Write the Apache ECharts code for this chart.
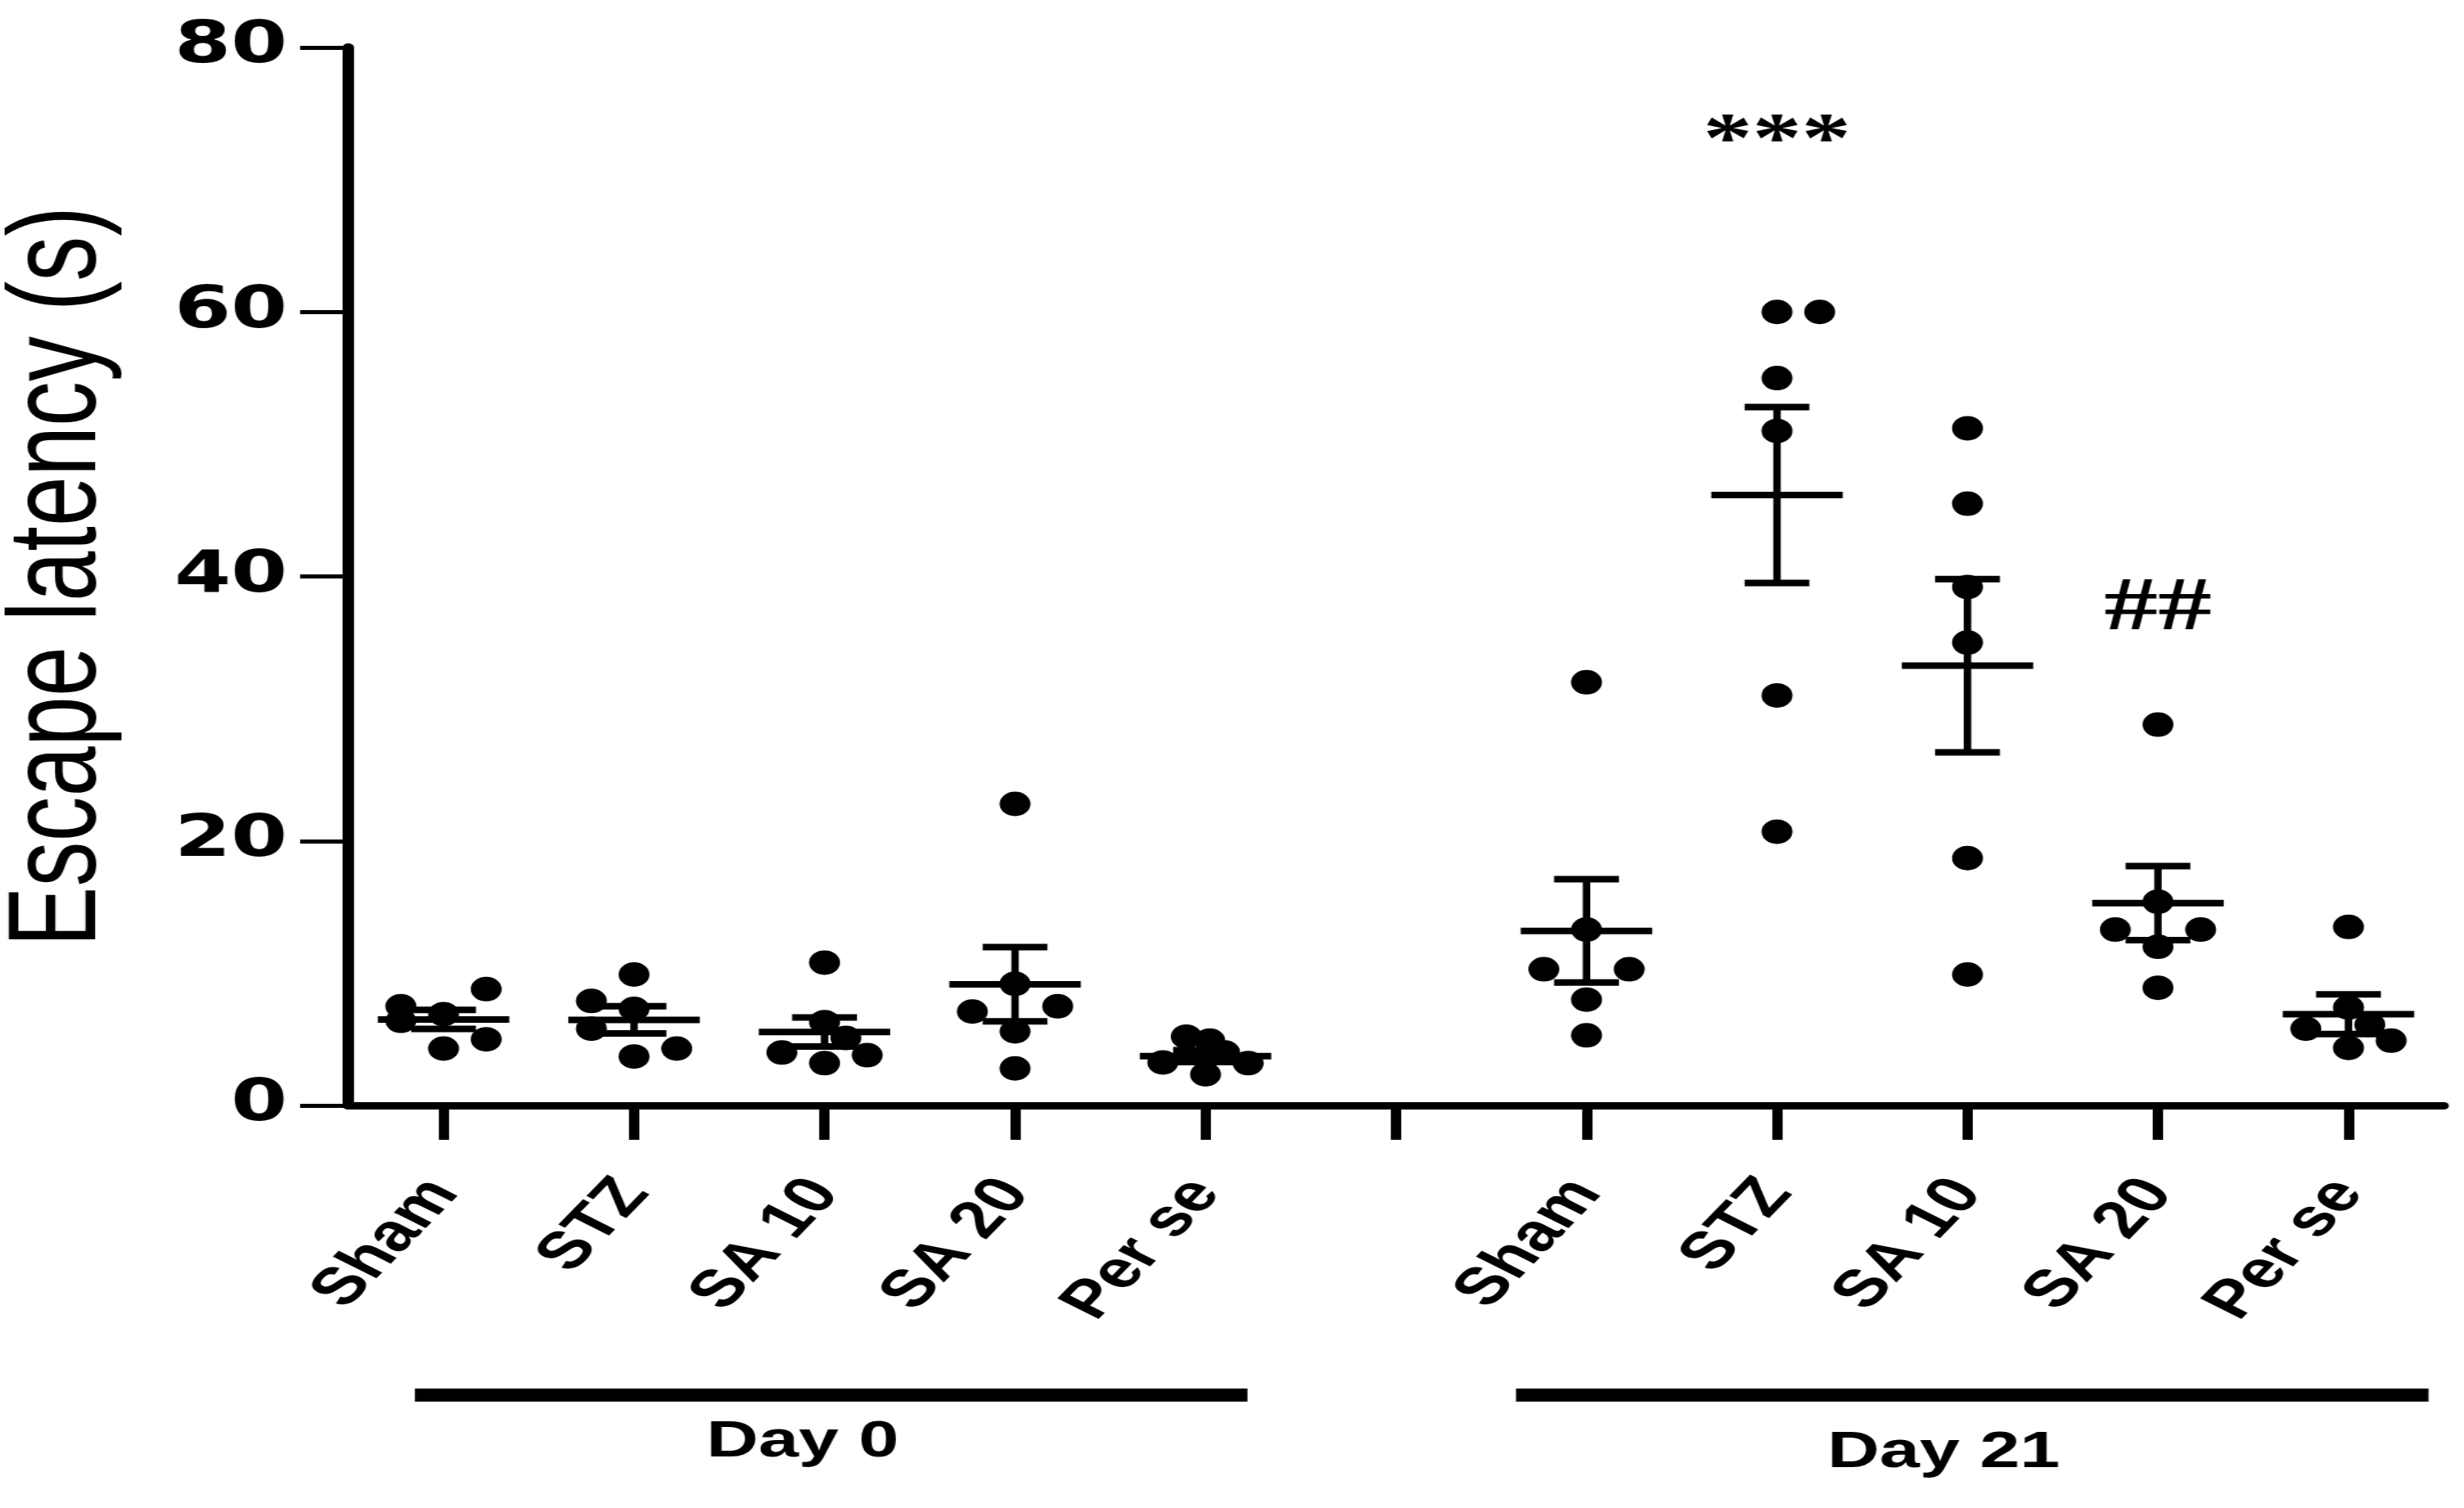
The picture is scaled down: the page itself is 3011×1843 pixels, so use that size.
<!DOCTYPE html>
<html>
<head>
<meta charset="utf-8">
<script src="https://cdn.jsdelivr.net/npm/echarts@6/dist/echarts.min.js"></script>
<style>
html, body { margin: 0; padding: 0; background: #fff; overflow: hidden; width: 3011px; height: 1843px; }
/* the reference figure is horizontally stretched; draw at 1/1.4 width and stretch */
#chart { width: 2151px; height: 1843px; transform: scaleX(1.4); transform-origin: 0 0; }
</style>
</head>
<body>
<div id="chart"></div>
<script>
// ---------------- data ----------------
const categories = ['Sham', 'STZ', 'SA 10', 'SA 20', 'Per se', '', 'Sham', 'STZ', 'SA 10', 'SA 20', 'Per se'];
const yTickValues = [0, 20, 40, 60, 80];
const yTitle = 'Escape latency (s)';

// individual animals (escape latency, s)
const day0Sham  = [8.8, 7.5, 6.9, 6.4, 5.0, 4.3];
const day0STZ   = [9.9, 7.9, 7.3, 5.8, 4.3, 3.7];
const day0SA10  = [10.8, 6.3, 5.1, 4.0, 3.8, 3.2];
const day0SA20  = [22.8, 9.2, 7.5, 7.1, 5.6, 2.8];
const day0PerSe = [5.2, 4.9, 4.0, 3.25, 3.2, 2.35];
const day21Sham  = [32.0, 13.3, 10.3, 10.3, 8.0, 5.3];
const day21STZ   = [60.0, 60.0, 55.0, 51.0, 31.0, 20.7];
const day21SA10  = [51.2, 45.5, 39.2, 35.0, 18.7, 9.9];
const day21SA20  = [28.8, 15.4, 13.3, 13.3, 12.0, 8.9];
const day21PerSe = [13.5, 7.4, 6.1, 5.8, 4.9, 4.35];

// scatter spread of the dots as drawn (-1 left, 0 centre, +1 right)
const day0ShamSpread  = [1, -1, 0, -1, 1, 0];
const day0STZSpread   = [0, -1, 0, -1, 1, 0];
const day0SA10Spread  = [0, 0, 0.5, -1, 1, 0];
const day0SA20Spread  = [0, 0, 1, -1, 0, 0];
const day0PerSeSpread = [-0.45, 0.1, 0.45, -1, 1, 0];
const day21ShamSpread  = [0, 0, -1, 1, 0, 0];
const day21STZSpread   = [0, 1, 0, 0, 0, 0];
const day21SA10Spread  = [0, 0, 0, 0, 0, 0];
const day21SA20Spread  = [0, 0, -1, 1, 0, 0];
const day21PerSeSpread = [0, 0, 0.5, -1, 1, 0];

// mean and SEM per category (gap category = null)
const groupMean = [6.5, 6.47, 5.55, 9.16, 3.73, null, 13.2, 46.15, 33.25, 15.3, 6.9];
const groupSEM  = [0.72, 1.03, 1.1, 2.81, 0.45, null, 3.9, 6.65, 6.55, 2.8, 1.5];

// significance marks
const annoCategory = [7, 9];
const annoValue = [72.8, 37.5];
const annoText = ['***', '##'];

// group brackets under the axis
const groupNames = ['Day 0', 'Day 21'];
const groupFirst = [0, 6];
const groupLast = [4, 10];

// ---------------- build ----------------
const dotsByCat = [day0Sham, day0STZ, day0SA10, day0SA20, day0PerSe, null,
                   day21Sham, day21STZ, day21SA10, day21SA20, day21PerSe];
const spreadByCat = [day0ShamSpread, day0STZSpread, day0SA10Spread, day0SA20Spread, day0PerSeSpread, null,
                     day21ShamSpread, day21STZSpread, day21SA10Spread, day21SA20Spread, day21PerSeSpread];
const dotData = [];
dotsByCat.forEach((vals, ci) => {
  if (!vals) return;
  vals.forEach((v, j) => dotData.push([ci, v, spreadByCat[ci][j]]));
});
const barData = [];
groupMean.forEach((m, ci) => { if (m !== null) barData.push([ci, m, groupSEM[ci]]); });
const annoData = annoCategory.map((c, i) => [c, annoValue[i]]);

const chart = echarts.init(document.getElementById('chart'), null, { renderer: 'canvas' });

const option = {
  backgroundColor: '#ffffff',
  animation: false,
  grid: { left: 304, right: 18, top: 58, bottom: 492, containLabel: false, outerBoundsMode: 'none' },
  xAxis: {
    type: 'category',
    data: categories,
    boundaryGap: true,
    axisLine: { show: true, lineStyle: { color: '#000', width: 9 } },
    axisTick: { show: true, alignWithLabel: true, length: 42, lineStyle: { color: '#000', width: 9 } },
    axisLabel: {
      interval: 0, rotate: 55, margin: 97,
      fontFamily: 'Liberation Sans', fontWeight: 'bold', fontSize: 64, color: '#000'
    },
    splitLine: { show: false }
  },
  yAxis: {
    type: 'value', min: 0, max: 80, interval: 20,
    axisLine: { show: true, lineStyle: { color: '#000', width: 10 } },
    axisTick: { show: true, length: 42, lineStyle: { color: '#000', width: 5 } },
    axisLabel: {
      margin: 53, fontFamily: 'DejaVu Sans', fontWeight: 'bold', fontSize: 71, color: '#000',
      formatter: v => (yTickValues.indexOf(v) >= 0 ? String(v) : '')
    },
    splitLine: { show: false },
    name: yTitle, nameLocation: 'middle', nameGap: 196,
    nameTextStyle: { fontFamily: 'Liberation Sans', fontSize: 110, color: '#000' }
  },
  series: [
    {
      type: 'custom', name: 'mean ± SEM', coordinateSystem: 'cartesian2d', data: barData, z: 4,
      renderItem(params, api) {
        const x = api.value(0), m = api.value(1), e = api.value(2);
        const c = api.coord([x, m]), hi = api.coord([x, m + e]), lo = api.coord([x, m - e]);
        const band = api.size([1, 0])[0];
        const mw = band * 0.345, cw = band * 0.17;
        const st = { stroke: '#000', lineWidth: 8 };
        return {
          type: 'group', children: [
            { type: 'line', shape: { x1: c[0] - mw, y1: c[1], x2: c[0] + mw, y2: c[1] }, style: st },
            { type: 'line', shape: { x1: hi[0], y1: hi[1], x2: lo[0], y2: lo[1] }, style: { stroke: '#000', lineWidth: 6.5 } },
            { type: 'line', shape: { x1: hi[0] - cw, y1: hi[1], x2: hi[0] + cw, y2: hi[1] }, style: st },
            { type: 'line', shape: { x1: lo[0] - cw, y1: lo[1], x2: lo[0] + cw, y2: lo[1] }, style: st }
          ]
        };
      }
    },
    {
      type: 'custom', name: 'animals', coordinateSystem: 'cartesian2d', data: dotData, z: 5,
      renderItem(params, api) {
        const p = api.coord([api.value(0), api.value(1)]);
        const band = api.size([1, 0])[0];
        return {
          type: 'circle', x: p[0] + api.value(2) * band * 0.224, y: p[1],
          scaleX: 27 / 30, scaleY: 1,
          shape: { cx: 0, cy: 0, r: 15 }, style: { fill: '#000' }
        };
      }
    },
    {
      type: 'custom', name: 'significance', coordinateSystem: 'cartesian2d', data: annoData, z: 6,
      renderItem(params, api) {
        const p = api.coord([api.value(0), api.value(1)]);
        const t = annoText[params.dataIndex];
        return {
          type: 'text', x: p[0], y: p[1],
          style: {
            text: t, fill: '#000', align: 'center', verticalAlign: 'middle',
            fontFamily: 'Liberation Serif', fontWeight: 'bold', fontSize: t === '##' ? 94 : 86
          }
        };
      }
    }
  ]
};
chart.setOption(option);

// group brackets (Day 0 / Day 21), placed from the category axis scale
const px = i => chart.convertToPixel({ xAxisIndex: 0 }, i);
const band = px(1) - px(0);
const yBase = chart.convertToPixel({ yAxisIndex: 0 }, 0);
const extendLeft = [0.15, 0.37], extendRight = [0.22, 0.42];
const textDy = [412, 425];
const graphics = [];
groupNames.forEach((name, g) => {
  const x1 = px(groupFirst[g]) - extendLeft[g] * band;
  const x2 = px(groupLast[g]) + extendRight[g] * band;
  graphics.push({
    type: 'line', shape: { x1: x1, y1: yBase + 354, x2: x2, y2: yBase + 354 },
    style: { stroke: '#000', lineWidth: 16 }
  });
  graphics.push({
    type: 'text', x: (x1 + x2) / 2 - 0.15 * band, y: yBase + textDy[g],
    style: {
      text: name, fill: '#000', align: 'center', verticalAlign: 'middle',
      fontFamily: 'Liberation Sans', fontWeight: 'bold', fontSize: 63
    }
  });
});
chart.setOption({ graphic: graphics });
</script>
</body>
</html>
